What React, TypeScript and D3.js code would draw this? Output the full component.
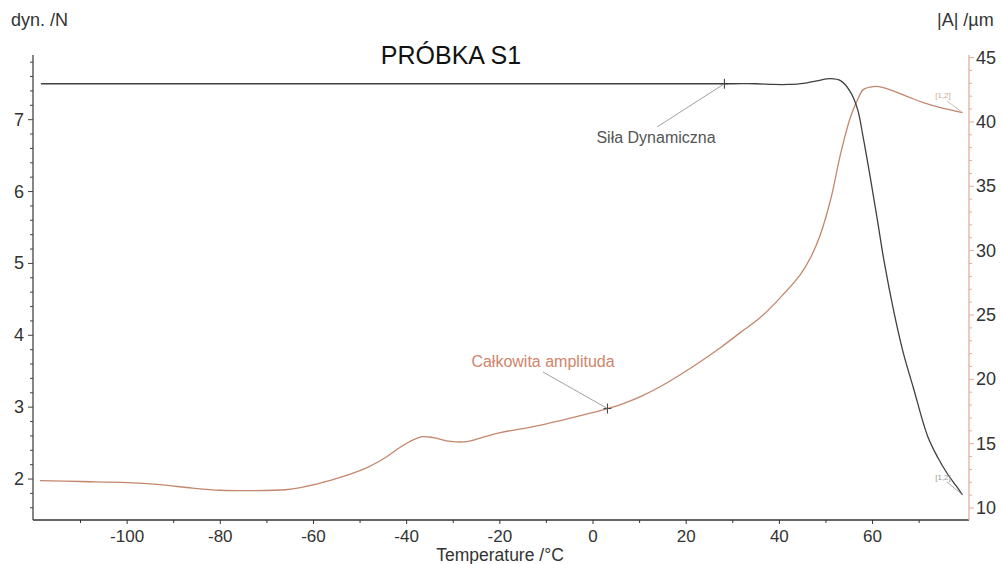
import React from "react";
import * as d3 from "d3";

// Temperature sweep, °C
const xDomain = [-120.2, 80.7];
const leftDomain = [1.43, 7.9];
const rightDomain = [9.07, 45.2];

// Siła Dynamiczna (dyn. /N) — [temperature, force]
const forceTemp = [-118.5, -90, -60, -30, 0, 20, 30, 35, 38.7, 42, 45.2, 48, 51, 53.2, 55.3, 56.8, 58, 59.5, 61, 62.5, 64.5, 66.5, 68.8, 71.8, 74, 76.1, 78, 79.3];
const forceVal = [7.5, 7.5, 7.5, 7.5, 7.5, 7.5, 7.5, 7.5, 7.49, 7.49, 7.505, 7.54, 7.57, 7.54, 7.38, 7.14, 6.75, 6.2, 5.62, 5.02, 4.35, 3.78, 3.26, 2.6, 2.3, 2.07, 1.9, 1.78];

// Całkowita amplituda (|A| /µm) — [temperature, amplitude]
const ampTemp = [-118.7, -110, -100, -93, -86, -80, -73.5, -66, -62.8, -55.8, -48.5, -44.2, -41.4, -38.6, -36.5, -34.3, -30.6, -27, -23.6, -19.9, -12.8, -7, -2.7, 3.1, 5.9, 10.2, 14.5, 18.8, 23.1, 27.4, 31.6, 35.9, 40.2, 44.5, 46.7, 48.8, 51, 53.2, 55.3, 56.8, 58, 60.2, 62.3, 67.5, 70.9, 74.6, 79.3];
const ampVal = [12.13, 12.06, 11.98, 11.82, 11.55, 11.38, 11.35, 11.42, 11.59, 12.21, 13.14, 14.0, 14.72, 15.3, 15.55, 15.47, 15.18, 15.16, 15.5, 15.86, 16.33, 16.8, 17.18, 17.73, 18.04, 18.66, 19.44, 20.37, 21.38, 22.47, 23.63, 24.8, 26.35, 28.14, 29.46, 31.25, 33.97, 37.62, 40.42, 41.74, 42.51, 42.75, 42.67, 41.97, 41.5, 41.11, 40.73];

// Tick labels
const xMajorTicks = [-100, -80, -60, -40, -20, 0, 20, 40, 60];
const xMinorTicks = [-110, -90, -70, -50, -30, -10, 10, 30, 50, 70];
const leftMajorTicks = [2, 3, 4, 5, 6, 7];
const rightMajorTicks = [10, 15, 20, 25, 30, 35, 40, 45];

// Annotated cursor points
const forceMarker = [28.2, 7.5];
const ampMarker = [3.1, 17.73];

const FONT = "'Liberation Sans', Arial, Helvetica, sans-serif";
const AMP_COLOR = "#c4876d";
const AMP_AXIS = "#e3ad9c";
const FORCE_COLOR = "#404040";

export default function App() {
  const W = 1003;
  const H = 564;
  const left = 33;
  const right = 969;
  const top = 55;
  const bottom = 520;

  const x = d3.scaleLinear().domain(xDomain).range([left, right]);
  const yL = d3.scaleLinear().domain(leftDomain).range([bottom, top]);
  const yR = d3.scaleLinear().domain(rightDomain).range([bottom, top]);

  const forceData = forceTemp.map((t, i) => [t, forceVal[i]]);
  const ampData = ampTemp.map((t, i) => [t, ampVal[i]]);

  const forceLine = d3
    .line<number[]>()
    .x((d) => x(d[0]))
    .y((d) => yL(d[1]))
    .curve(d3.curveCatmullRom.alpha(0.5));
  const ampLine = d3
    .line<number[]>()
    .x((d) => x(d[0]))
    .y((d) => yR(d[1]))
    .curve(d3.curveCatmullRom.alpha(0.5));

  const leftMinor = d3.range(1.6, 7.9, 0.2).filter((v) => Math.abs(v - Math.round(v)) > 0.01);
  const rightMinor = d3.range(10, 45.5, 1).filter((v) => v % 5 !== 0);

  const fm = [x(forceMarker[0]), yL(forceMarker[1])];
  const am = [x(ampMarker[0]), yR(ampMarker[1])];
  const forceEnd = forceData[forceData.length - 1];
  const ampEnd = ampData[ampData.length - 1];
  const fe = [x(forceEnd[0]), yL(forceEnd[1])];
  const ae = [x(ampEnd[0]), yR(ampEnd[1])];

  const cross = (p: number[], c: string) => (
    <g stroke={c} strokeWidth={1}>
      <line x1={p[0] - 4} x2={p[0] + 4} y1={p[1]} y2={p[1]} />
      <line x1={p[0]} x2={p[0]} y1={p[1] - 5} y2={p[1] + 5} />
    </g>
  );

  return (
    <svg
      width={W}
      height={H}
      style={{ position: "absolute", left: 0, top: 0, background: "#fff" }}
      fontFamily={FONT}
    >
      <rect width={W} height={H} fill="#fff" />

      {/* Title and axis captions */}
      <text x={451} y={64} textAnchor="middle" fontSize={25} fill="#111">
        PRÓBKA S1
      </text>
      <text x={11} y={26} fontSize={18} fill="#333">
        dyn. /N
      </text>
      <text x={937} y={26} fontSize={18} fill="#333">
        |A| /µm
      </text>
      <text x={500} y={561} textAnchor="middle" fontSize={17.5} fill="#333">
        Temperature /°C
      </text>

      {/* Curves */}
      <path d={ampLine(ampData) || ""} fill="none" stroke={AMP_COLOR} strokeWidth={1.3} />
      <path d={forceLine(forceData) || ""} fill="none" stroke={FORCE_COLOR} strokeWidth={1.3} />

      {/* Bottom axis */}
      <g stroke="#333">
        <line x1={left} x2={right} y1={bottom} y2={bottom} strokeWidth={1.5} />
        {xMajorTicks.map((t) => (
          <line key={t} x1={x(t)} x2={x(t)} y1={bottom} y2={bottom + 4} />
        ))}
        {xMinorTicks.map((t) => (
          <line key={t} x1={x(t)} x2={x(t)} y1={bottom} y2={bottom + 3} />
        ))}
      </g>
      {xMajorTicks.map((t) => (
        <text key={t} x={x(t)} y={542} textAnchor="middle" fontSize={17} fill="#333">
          {t}
        </text>
      ))}

      {/* Left axis */}
      <g stroke="#444">
        <line x1={left} x2={left} y1={top} y2={bottom} strokeWidth={1.3} />
        {leftMajorTicks.map((t) => (
          <line key={t} x1={left - 5} x2={left} y1={yL(t)} y2={yL(t)} />
        ))}
        {leftMinor.map((t) => (
          <line key={t} x1={left - 3} x2={left} y1={yL(t)} y2={yL(t)} />
        ))}
      </g>
      {leftMajorTicks.map((t) => (
        <text key={t} x={24} y={yL(t) + 6} textAnchor="end" fontSize={18} fill="#333">
          {t}
        </text>
      ))}

      {/* Right axis */}
      <g stroke={AMP_AXIS}>
        <line x1={right} x2={right} y1={top} y2={bottom} strokeWidth={1.3} />
        {rightMajorTicks.map((t) => (
          <line key={t} x1={right} x2={right + 5} y1={yR(t)} y2={yR(t)} />
        ))}
        {rightMinor.map((t) => (
          <line key={t} x1={right} x2={right + 3} y1={yR(t)} y2={yR(t)} />
        ))}
      </g>
      {rightMajorTicks.map((t) => (
        <text key={t} x={976} y={yR(t) + 6} fontSize={18} fill="#333">
          {t}
        </text>
      ))}

      {/* Cursor annotations */}
      {cross(fm, "#333")}
      <line x1={657} y1={127} x2={fm[0]} y2={fm[1]} stroke="#888" strokeWidth={0.8} />
      <text x={656} y={143} textAnchor="middle" fontSize={16} fill="#555">
        Siła Dynamiczna
      </text>

      {cross(am, "#444")}
      <line x1={543} y1={372} x2={am[0]} y2={am[1]} stroke="#888" strokeWidth={0.8} />
      <text x={543} y={367} textAnchor="middle" fontSize={16} fill="#d0856a">
        Całkowita amplituda
      </text>

      {/* Curve end tags */}
      <line x1={947} y1={101} x2={ae[0]} y2={ae[1]} stroke="#c9a89a" strokeWidth={0.8} />
      <text x={943} y={98} textAnchor="middle" fontSize={8} fill="#c9a89a">
        [1,2]
      </text>
      <line x1={947} y1={482} x2={fe[0]} y2={fe[1]} stroke="#999" strokeWidth={0.8} />
      <text x={943} y={480} textAnchor="middle" fontSize={8} fill="#999">
        [1,2]
      </text>
    </svg>
  );
}
